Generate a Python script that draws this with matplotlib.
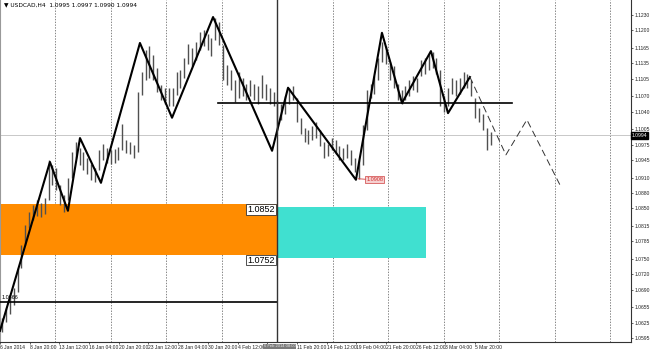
import numpy as np
import matplotlib.pyplot as plt

plt.rcParams['font.family'] = ['Liberation Sans Narrow', 'Liberation Sans', 'DejaVu Sans']

# H4 bars (high / low, one entry per ~2 bars)
highs = [1.0634, 1.0654, 1.0674, 1.0693, 1.0733, 1.0778, 1.0817, 1.0843, 1.0857, 1.0866,
         1.0860, 1.0870, 1.0945, 1.0935, 1.0929, 1.0896, 1.0876, 1.0910, 1.0961, 1.0980,
         1.0969, 1.0961, 1.0949, 1.0937, 1.0929, 1.0965, 1.0976, 1.0969, 1.0965, 1.0967,
         1.0970, 1.1016, 1.0984, 1.0980, 1.0974, 1.1079, 1.1118, 1.1161, 1.1169, 1.1151,
         1.1126, 1.1092, 1.1086, 1.1086, 1.1086, 1.1118, 1.1122, 1.1145, 1.1173, 1.1165,
         1.1177, 1.1197, 1.1201, 1.1193, 1.1185, 1.1224, 1.1216, 1.1171, 1.1132, 1.1122,
         1.1102, 1.1118, 1.1106, 1.1094, 1.1102, 1.1094, 1.1090, 1.1112, 1.1094, 1.1086,
         1.1079, 1.1063, 1.1055, 1.1071, 1.1086, 1.1090, 1.1067, 1.1028, 1.1008, 1.1004,
         1.1012, 1.1020, 1.1004, 1.0980, 1.0976, 1.0988, 1.0984, 1.0972, 1.0969, 1.0976,
         1.0965, 1.0949, 1.0945, 1.1014, 1.1083, 1.1094, 1.1110, 1.1145, 1.1177, 1.1169,
         1.1138, 1.1130, 1.1094, 1.1083, 1.1090, 1.1102, 1.1110, 1.1106, 1.1142, 1.1145,
         1.1153, 1.1157, 1.1145, 1.1122, 1.1071, 1.1086, 1.1106, 1.1102, 1.1106, 1.1118,
         1.1114, 1.1102, 1.1067, 1.1047, 1.1035, 1.1008, 1.1000]
lows = [1.0607, 1.0627, 1.0642, 1.0660, 1.0685, 1.0733, 1.0778, 1.0811, 1.0827, 1.0835,
        1.0833, 1.0839, 1.0866, 1.0896, 1.0886, 1.0857, 1.0843, 1.0866, 1.0910, 1.0949,
        1.0935, 1.0925, 1.0917, 1.0906, 1.0902, 1.0925, 1.0945, 1.0939, 1.0937, 1.0939,
        1.0945, 1.0965, 1.0959, 1.0957, 1.0949, 1.0961, 1.1073, 1.1102, 1.1106, 1.1102,
        1.1079, 1.1063, 1.1055, 1.1051, 1.1051, 1.1073, 1.1086, 1.1106, 1.1134, 1.1130,
        1.1142, 1.1161, 1.1169, 1.1161, 1.1149, 1.1181, 1.1171, 1.1102, 1.1092, 1.1083,
        1.1059, 1.1067, 1.1071, 1.1063, 1.1071, 1.1063, 1.1055, 1.1067, 1.1063, 1.1055,
        1.1051, 1.1004, 1.1024, 1.1035, 1.1055, 1.1063, 1.1020, 1.0996, 1.0980, 1.0976,
        1.0984, 1.0988, 1.0973, 1.0949, 1.0953, 1.0965, 1.0957, 1.0945, 1.0945, 1.0949,
        1.0935, 1.0921, 1.0908, 1.0935, 1.1004, 1.1067, 1.1075, 1.1102, 1.1138, 1.1134,
        1.1102, 1.1086, 1.1063, 1.1055, 1.1063, 1.1071, 1.1083, 1.1079, 1.1110, 1.1114,
        1.1122, 1.1126, 1.1114, 1.1051, 1.1039, 1.1051, 1.1075, 1.1071, 1.1075, 1.1086,
        1.1086, 1.1071, 1.1028, 1.1020, 1.1004, 1.0965, 1.0974]

# zigzag drawn on the chart (bar index, price)
zz_bars = [0, 26.9, 36.6, 43.1, 54.4, 75.4, 92.7, 114.8, 146.6, 155.2, 191.8, 205.8, 216.6, 232.2, 241.4, 253.2]
zz_prices = [1.0609, 1.0941, 1.0845, 1.0988, 1.0900, 1.1175, 1.1028, 1.1226, 1.0963, 1.1087,
             1.0906, 1.1195, 1.1057, 1.1159, 1.1037, 1.1108]
proj_bars = [253.2, 272.6, 283.9, 301.7]
proj_prices = [1.1108, 1.0955, 1.1024, 1.0896]

price_ticks = [1.1230, 1.1200, 1.1165, 1.1135, 1.1105, 1.1070, 1.1040, 1.1005, 1.0975, 1.0945,
               1.0910, 1.0880, 1.0850, 1.0815, 1.0785, 1.0750, 1.0720, 1.0690, 1.0655, 1.0625, 1.0595]
date_labels = ["6 Jan 2014", "8 Jan 20:00", "13 Jan 12:00", "16 Jan 04:00", "20 Jan 20:00",
               "23 Jan 12:00", "28 Jan 04:00", "30 Jan 20:00", "4 Feb 12:00", "",
               "11 Feb 20:00", "14 Feb 12:00", "19 Feb 04:00", "21 Feb 20:00", "26 Feb 12:00",
               "3 Mar 04:00", "5 Mar 20:00"]

current = 1.0994
low_mark = 1.0908
support = 1.0666
resist = 1.1057
vline_bar = 149.3
orange_zone = (1.0758, 1.0858)
cyan_zone = (1.0752, 1.0853)

fig = plt.figure(figsize=(6.5, 3.5), dpi=100)
ax = fig.add_axes([0, 8 / 350, 631 / 650, 342 / 350])
ax.set_xlim(0, 340)
ax.set_ylim(1.0587, 1.12595)

# weekly separators
for g in np.arange(29.7, 340, 29.9):
    ax.axvline(g, color='#555555', lw=0.5, ls=(0, (2, 2)), zorder=1)

ax.axhspan(*orange_zone, xmin=0, xmax=vline_bar / 340, color='#ff8c00', lw=0, zorder=2)
ax.fill_between([vline_bar, 229.5], cyan_zone[0], cyan_zone[1], color='#40e0d0', lw=0, zorder=2)

ax.axhline(current, color='#c8c8c8', lw=0.7, zorder=2)

xb = 1.1 + 2.09 * np.arange(len(highs))
ax.vlines(xb, lows, highs, color='#505050', lw=1.0, zorder=3)

ax.plot(zz_bars, zz_prices, color='black', lw=1.5, zorder=4)
ax.plot(proj_bars, proj_prices, color='#333333', lw=0.7, ls=(0, (7, 4)), zorder=4)

ax.plot([0, vline_bar], [support, support], color='black', lw=1.2, zorder=4)
ax.text(1, support + 0.0004, "1.0666", fontsize=4.0, va='bottom', ha='left', zorder=5)
ax.plot([117.5, 275.9], [resist, resist], color='black', lw=1.2, zorder=4)
ax.axvline(vline_bar, color='#333333', lw=1.0, zorder=4)

ax.text(148.0, orange_zone[1] - 0.0001, "1.0852", fontsize=6.5, ha='right', va='top', zorder=6,
        family='Liberation Sans',
        bbox=dict(boxstyle='square,pad=0.1', fc='white', ec='#333333', lw=0.6))
ax.text(148.0, orange_zone[0] - 0.0001, "1.0752", fontsize=6.5, ha='right', va='top', zorder=6,
        family='Liberation Sans',
        bbox=dict(boxstyle='square,pad=0.1', fc='white', ec='#333333', lw=0.6))

ax.plot([193.0, 197.0], [low_mark, low_mark - 0.0001], color='#d04040', lw=0.6, zorder=5)
ax.text(197.3, low_mark - 0.0001, "1.0908", fontsize=4.0, color='#d03030', ha='left', va='center', zorder=6,
        bbox=dict(boxstyle='square,pad=0.15', fc='#f6d0d0', ec='#d04040', lw=0.5))

ax.text(2, 1.1250, "\u25bc USDCAD,H4  1.0995 1.0997 1.0990 1.0994", fontsize=4.2, va='center', ha='left',
        family=['Liberation Sans Narrow', 'DejaVu Sans'])

ax.yaxis.tick_right()
ax.set_yticks(price_ticks)
ax.set_yticklabels(["%.4f" % p for p in price_ticks])
ax.set_xticks(np.arange(len(date_labels)) * 16)
ax.set_xticklabels(date_labels)
for lab in ax.get_xticklabels():
    lab.set_horizontalalignment('left')
ax.tick_params(axis='both', labelsize=3.6, length=1.5, width=0.5, pad=0.8, colors='#222222')

ax.text(1.001, (current - 1.0587) / (1.12595 - 1.0587), "1.0994", transform=ax.transAxes,
        fontsize=3.6, color='white', ha='left', va='center',
        bbox=dict(boxstyle='square,pad=0.2', fc='black', ec='black'))
ax.text(142.2, -0.007, "6 Feb 2014 08:00", transform=ax.get_xaxis_transform(),
        fontsize=3.0, color='#e8e8e8', ha='left', va='top',
        bbox=dict(boxstyle='square,pad=0.15', fc='#7a7a7a', ec='none'))

ax.spines['top'].set_visible(False)
ax.spines['left'].set_color('#999999')
ax.spines['right'].set_color('#333333')
ax.spines['bottom'].set_color('#333333')
for s in ['left', 'right', 'bottom']:
    ax.spines[s].set_linewidth(0.8)

fig.savefig('out.png', dpi=100)
